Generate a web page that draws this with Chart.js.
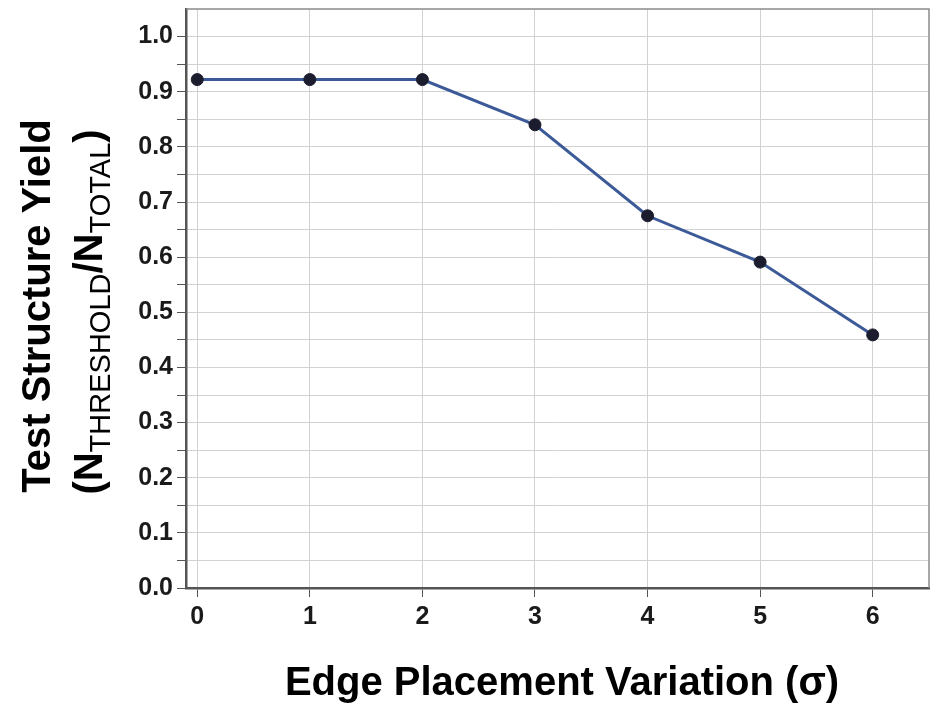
<!DOCTYPE html>
<html>
<head>
<meta charset="utf-8">
<script src="https://cdn.jsdelivr.net/npm/chart.js@4"></script>
<style>
  body { margin: 0; background: #fff; }
  #wrap { width: 936px; height: 707px; }
</style>
</head>
<body>
<div id="wrap"><canvas id="myChart" width="936" height="707"></canvas></div>
<script>
// data
const sigma = [0, 1, 2, 3, 4, 5, 6];
const yieldVals = [0.922, 0.922, 0.922, 0.840, 0.675, 0.591, 0.459];
const xTickValues = [0, 1, 2, 3, 4, 5, 6];
const yTickValues = [0.0, 0.1, 0.2, 0.3, 0.4, 0.5, 0.6, 0.7, 0.8, 0.9, 1.0];
const yMinorValues = [0.05, 0.15, 0.25, 0.35, 0.45, 0.55, 0.65, 0.75, 0.85, 0.95];

const FONT = "'Liberation Sans', Arial, Helvetica, sans-serif";

// titles with subscripts + frame
const titlesPlugin = {
  id: 'titles',
  afterDraw(chart) {
    const ctx = chart.ctx;
    const a = chart.chartArea;
    ctx.save();
    ctx.strokeStyle = '#8a8a8a';
    ctx.lineWidth = 1.5;
    ctx.beginPath();
    ctx.moveTo(a.left, a.top);
    ctx.lineTo(a.right, a.top);
    ctx.lineTo(a.right, a.bottom);
    ctx.stroke();
    ctx.restore();

    ctx.save();
    ctx.fillStyle = '#000';
    ctx.textBaseline = 'alphabetic';
    // x title
    ctx.font = 'bold 40px ' + FONT;
    ctx.textAlign = 'center';
    ctx.fillText('Edge Placement Variation (σ)', 562, 695);

    // y title line 1
    ctx.save();
    ctx.translate(50, 306);
    ctx.rotate(-Math.PI / 2);
    ctx.fillText('Test Structure Yield', 0, 0);
    ctx.restore();

    // y title line 2 with subscripts
    const parts = [
      ['(N', false], ['THRESHOLD', true], ['/N', false], ['TOTAL', true], [')', false]
    ];
    const mainFont = 'bold 40px ' + FONT;
    const subFont = '29px ' + FONT;
    let total = 0;
    parts.forEach(p => {
      ctx.font = p[1] ? subFont : mainFont;
      total += ctx.measureText(p[0]).width;
    });
    ctx.save();
    ctx.translate(102, 312);
    ctx.rotate(-Math.PI / 2);
    ctx.textAlign = 'left';
    let x = -total / 2;
    parts.forEach(p => {
      ctx.font = p[1] ? subFont : mainFont;
      ctx.fillText(p[0], x, p[1] ? 8 : 0);
      x += ctx.measureText(p[0]).width;
    });
    ctx.restore();
    ctx.restore();
  }
};

const ctx = document.getElementById('myChart');
const myChart = new Chart(ctx, {
  type: 'line',
  data: {
    datasets: [{
      data: sigma.map((s, i) => ({x: s, y: yieldVals[i]})),
      borderColor: '#3c5a98',
      borderWidth: 3,
      pointRadius: 6,
      pointBackgroundColor: '#1b1d2e',
      pointBorderColor: '#1b1d2e',
      pointBorderWidth: 1,
      tension: 0,
      fill: false
    }]
  },
  options: {
    responsive: false,
    animation: false,
    devicePixelRatio: 1,
    layout: { padding: { top: 9, right: 6, left: 0, bottom: 0 } },
    plugins: {
      legend: { display: false },
      tooltip: { enabled: false }
    },
    scales: {
      x: {
        type: 'linear',
        min: -0.1,
        max: 6.5,
        afterBuildTicks: scale => { scale.ticks = xTickValues.map(v => ({value: v})); },
        afterFit: scale => {
          scale.height = 119;
          scale.paddingLeft = 0;
          scale.paddingRight = 0;
        },
        grid: { color: '#d2d2d2', lineWidth: 1, tickColor: '#555', tickLength: 9 },
        border: { color: '#555', width: 2.5 },
        ticks: {
          padding: 5,
          autoSkip: false,
          color: '#1a1a1a',
          font: { family: FONT, size: 25, weight: 'bold' },
          maxRotation: 0
        }
      },
      y: {
        min: 0,
        max: 1.05,
        afterBuildTicks: scale => {
          scale.ticks = yTickValues.concat(yMinorValues).sort((p, q) => p - q).map(v => ({value: v}));
        },
        afterFit: scale => {
          scale.width = 186;
          scale.paddingTop = 0;
          scale.paddingBottom = 0;
        },
        grid: { color: '#d2d2d2', lineWidth: 1, tickColor: '#555', tickLength: 9 },
        border: { color: '#555', width: 2.5 },
        ticks: {
          padding: 4,
          autoSkip: false,
          color: '#1a1a1a',
          font: { family: FONT, size: 25, weight: 'bold' },
          callback: v => {
            const hit = yTickValues.find(t => Math.abs(t - v) < 1e-6);
            return hit === undefined ? '' : hit.toFixed(1);
          }
        }
      }
    }
  },
  plugins: [titlesPlugin]
});
</script>
</body>
</html>
